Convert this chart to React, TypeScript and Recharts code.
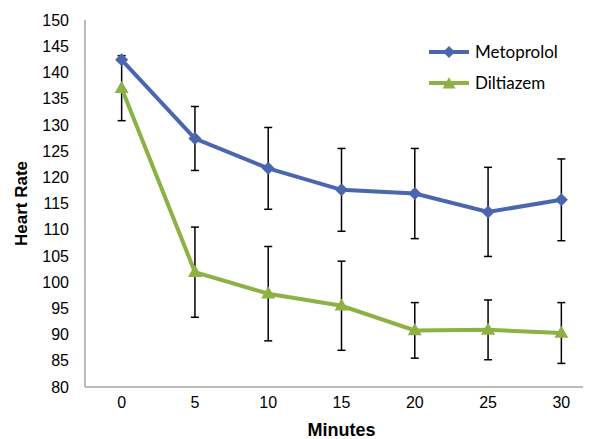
import { CartesianGrid, ErrorBar, Legend, Line, LineChart, XAxis, YAxis } from "recharts";

const minutes = ["0", "5", "10", "15", "20", "25", "30"];
const metoprolol = [142.4, 127.4, 121.7, 117.6, 116.9, 113.4, 115.7];
const metoprololErr = [null, 6.1, 7.8, 7.9, 8.6, 8.5, 7.8];
const diltiazem = [137.0, 101.9, 97.8, 95.5, 90.8, 90.9, 90.3];
const diltiazemErr = [6.2, 8.6, 9.0, 8.5, 5.3, 5.7, 5.8];
const yTicks = [80, 85, 90, 95, 100, 105, 110, 115, 120, 125, 130, 135, 140, 145, 150];

const BLUE = "#4A66AE";
const GREEN = "#8DB144";
const FONT = "'Liberation Sans', Arial, sans-serif";

const data = minutes.map((m, i) => ({
  minute: m,
  met: metoprolol[i],
  metErr: metoprololErr[i],
  dil: diltiazem[i],
  dilErr: diltiazemErr[i],
}));

function Diamond({ cx, cy, r = 6.5 }: { cx: number; cy: number; r?: number }) {
  return <path d={`M${cx},${cy - r}L${cx + r},${cy}L${cx},${cy + r}L${cx - r},${cy}Z`} fill={BLUE} />;
}

function Triangle({ cx, cy, s = 14 }: { cx: number; cy: number; s?: number }) {
  const h = s * 0.87;
  return (
    <path
      d={`M${cx},${cy - h * 0.6}L${cx + s / 2},${cy + h * 0.4}L${cx - s / 2},${cy + h * 0.4}Z`}
      fill={GREEN}
    />
  );
}

function LegendContent() {
  const items = [
    { name: "Metoprolol", color: BLUE, shape: "diamond" },
    { name: "Diltiazem", color: GREEN, shape: "triangle" },
  ];
  return (
    <div style={{ fontFamily: "Lato, 'Open Sans', sans-serif", fontSize: 17, color: "#000" }}>
      {items.map((it) => (
        <div key={it.name} style={{ display: "flex", alignItems: "center", height: 31 }}>
          <svg width={44} height={16} style={{ marginRight: 3 }}>
            <line x1={1} y1={8} x2={41} y2={8} stroke={it.color} strokeWidth={4} />
            {it.shape === "diamond" ? <Diamond cx={21} cy={8} r={6} /> : <Triangle cx={21} cy={9} s={13} />}
          </svg>
          <span>{it.name}</span>
        </div>
      ))}
    </div>
  );
}

export default function App() {
  return (
    <div style={{ marginLeft: -8, marginTop: -8, background: "#fff", width: 600 }}>
      <LineChart width={600} height={439} data={data} margin={{ top: 20, right: 2, left: 0, bottom: 0 }}>
        <CartesianGrid stroke="none" />
        <XAxis
          dataKey="minute"
          scale="band"
          height={52}
          axisLine={{ stroke: "#a6a6a6", strokeWidth: 1.5 }}
          tickLine={false}
          tickSize={0}
          tickMargin={10}
          tick={{ fill: "#000", fontSize: 16, fontFamily: FONT }}
          label={(p: any) => (
            <text
              x={p.viewBox.x + p.viewBox.width / 2}
              y={p.viewBox.y + 49}
              textAnchor="middle"
              fontFamily={FONT}
              fontWeight="bold"
              fontSize={18}
              fill="#000"
            >
              Minutes
            </text>
          )}
        />
        <YAxis
          width={85}
          domain={[80, 150]}
          ticks={yTicks}
          interval={0}
          axisLine={{ stroke: "#a6a6a6", strokeWidth: 1.5 }}
          tickLine={false}
          tickSize={0}
          tickMargin={16}
          tick={{ fill: "#000", fontSize: 16, fontFamily: FONT }}
          label={(p: any) => {
            const x = p.viewBox.x + 27;
            const y = p.viewBox.y + p.viewBox.height / 2;
            return (
              <text
                x={x}
                y={y}
                transform={`rotate(-90 ${x} ${y})`}
                textAnchor="middle"
                fontFamily={FONT}
                fontWeight="bold"
                fontSize={17}
                fill="#000"
              >
                Heart Rate
              </text>
            );
          }}
        />
        <Legend
          layout="vertical"
          align="center"
          verticalAlign="middle"
          wrapperStyle={{ top: 36, left: 428, width: 160 }}
          content={() => <LegendContent />}
        />
        <Line
          dataKey="dil"
          stroke={GREEN}
          strokeWidth={4}
          isAnimationActive={false}
          dot={(p: any) => <Triangle key={`d${p.index}`} cx={p.cx} cy={p.cy} />}
          activeDot={false}
        >
          <ErrorBar dataKey="dilErr" width={4} stroke="#000" strokeWidth={1.5} direction="y" />
        </Line>
        <Line
          dataKey="met"
          stroke={BLUE}
          strokeWidth={4}
          isAnimationActive={false}
          dot={(p: any) => <Diamond key={`m${p.index}`} cx={p.cx} cy={p.cy} />}
          activeDot={false}
        >
          <ErrorBar dataKey="metErr" width={4} stroke="#000" strokeWidth={1.5} direction="y" />
        </Line>
      </LineChart>
    </div>
  );
}
